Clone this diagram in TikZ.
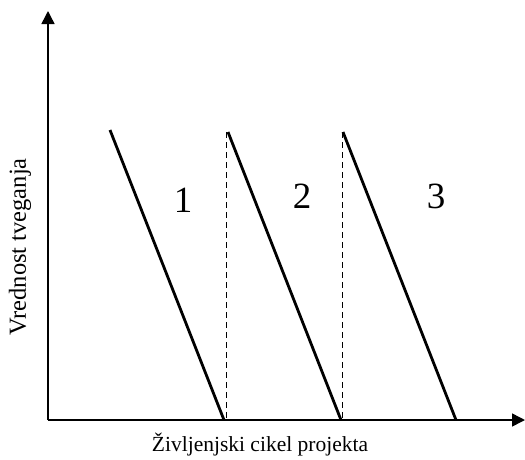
\documentclass[tikz,border=0pt]{standalone}
\usepackage{fontspec}
\setmainfont{Liberation Serif}
\usetikzlibrary{arrows.meta,positioning}

\begin{document}
\begin{tikzpicture}[x=1pt,y=-1pt,
  axis/.style={line width=1.5pt, -{Triangle[length=13pt,width=13pt]}},
  saw/.style={line width=2.8pt},
  guide/.style={line width=1.1pt, dash pattern=on 6pt off 4pt},
  phase/.style={font=\fontsize{37}{37}\selectfont, inner sep=0pt},
  axlabel/.style={font=\fontsize{21.5}{24}\selectfont, inner sep=0pt}]
 \useasboundingbox (0,0) rectangle (525,459);
 % axes
 \coordinate (O)    at (48,420);
 \coordinate (ytip) at (48,11);
 \coordinate (xtip) at (525,420);
 \draw[axis] (O) -- (ytip);
 \draw[axis] (O) -- (xtip);
 % risk drops per phase
 \coordinate (top1) at (110,130);
 \coordinate (bot1) at (224,420);
 \coordinate (top2) at (228,132);
 \coordinate (bot2) at (341,420);
 \coordinate (top3) at (343,132);
 \coordinate (bot3) at (456,420);
 \draw[saw] (top1) -- (bot1);
 \draw[saw] (top2) -- (bot2);
 \draw[saw] (top3) -- (bot3);
 \coordinate (cut1) at (226.5,132);
 \coordinate (cut2) at (342.5,132);
 \draw[guide] (cut1) -- (cut1 |- O);
 \draw[guide] (cut2) -- (cut2 |- O);
 % labels
 \node[phase] (p1) at (183,200) {1};
 \node[phase] (p2) at (302,196) {2};
 \node[phase] (p3) at (436,196) {3};
 \node[axlabel, rotate=90, font=\fontsize{24.5}{26}\selectfont] (ylab) at (20,247) {Vrednost tveganja};
 \node[axlabel] (xlab) at (260,445) {Življenjski cikel projekta};
\end{tikzpicture}
\end{document}
